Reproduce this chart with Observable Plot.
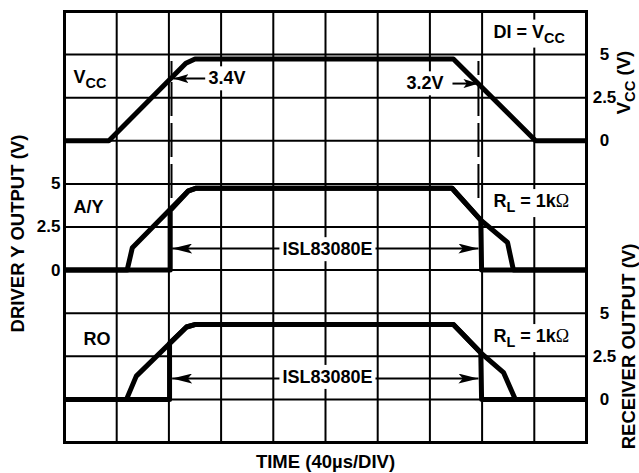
<!DOCTYPE html>
<html><head><meta charset="utf-8">
<script src="https://cdn.jsdelivr.net/npm/d3@7"></script>
<script src="https://cdn.jsdelivr.net/npm/@observablehq/plot@0.6"></script>
<style>body{margin:0;background:#fff} svg{display:block}</style>
</head><body><div id="chart"></div>
<script>
// ---- scope graticule: 40 µs/div horizontally, 2.5 V/div vertically ----
const gridTimes = [0, 40, 80, 120, 160, 200, 240, 280, 320, 360, 400];
const gridLevels = [0, 2.5, 5, 7.5, 10, 12.5, 15, 17.5, 20, 22.5, 25];

// channel zero-volt levels on the stacked screen
const vccOffset = 17.5, driverOffset = 10, receiverOffset = 2.5;

// ---- traces (time in µs, value in volts) ----
const vccTime  = [0, 34, 93, 100, 298, 361, 400];
const vccVolts = [0, 0, 4.5, 4.75, 4.75, 0, 0];

const aySlowTime  = [0, 48, 52, 95, 101, 297, 319, 339.5, 344, 400];
const aySlowVolts = [0, 0, 1.3, 4.6, 4.75, 4.75, 2.9, 1.6, 0, 0];
const ayFastTime  = [0, 81, 81, 95, 101, 297, 319, 319.6, 400];
const ayFastVolts = [0, 0, 3.45, 4.6, 4.75, 4.75, 2.9, 0, 0];

const roSlowTime  = [0, 47.5, 55, 93.5, 100.5, 298, 319, 336.5, 345.5, 400];
const roSlowVolts = [0, 0, 1.35, 4.2, 4.35, 4.35, 2.7, 1.55, 0, 0];
const roFastTime  = [0, 80.5, 80.5, 93.5, 100.5, 298, 319, 319.6, 400];
const roFastVolts = [0, 0, 3.25, 4.2, 4.35, 4.35, 2.7, 0, 0];

// ---- tick labels ----
const tickValues = [5, 2.5, 0];
const tickLabels = ["5", "2.5", "0"];

// ---- annotations (time µs, screen level) ----
const labelTexts  = ["V_{CC}", "A/Y", "RO", "DI = V_{CC}", "R_{L} = 1kΩ", "R_{L} = 1kΩ", "3.4V"];
const labelTimes  = [6.9, 6.9, 14.6, 328.7, 328.7, 328.7, 110.3];
const labelLevels = [21.2, 13.63, 5.97, 23.82, 13.99, 6.16, 21.11];
const label32 = "3.2V", label32Time = 290.4, label32Level = 20.82;
const islText = "ISL83080E", islTime = 201.5, islLevels = [11.2, 3.79];
const markerTimes = [82, 317.2];            // dashed 3.4 V / 3.2 V markers
const markerTop = 22.1, markerBottom = 14.15;
const islArrowFrom = [200, 200, 200, 200];
const islArrowTo   = [82.5, 317.2, 82.5, 317.2];
const islArrowLevel = [11.25, 11.25, 3.71, 3.71];
const voltArrowFrom = [108, 297.3];
const voltArrowTo   = [83.5, 317.2];
const voltArrowLevel = [21.11, 20.82];

// ---- build tables ----
function series(key, T, V, off) { return T.map((t, i) => ({key, t, y: off + V[i]})); }
const traces = [
  ...series("vcc", vccTime, vccVolts, vccOffset),
  ...series("aySlow", aySlowTime, aySlowVolts, driverOffset),
  ...series("ayFast", ayFastTime, ayFastVolts, driverOffset),
  ...series("roSlow", roSlowTime, roSlowVolts, receiverOffset),
  ...series("roFast", roFastTime, roFastVolts, receiverOffset)
];
const labels = labelTexts.map((s, i) => ({s, t: labelTimes[i], y: labelLevels[i]}));
const islArrows = islArrowFrom.map((a, i) => ({x1: a, x2: islArrowTo[i], y: islArrowLevel[i]}));
const voltArrows = voltArrowFrom.map((a, i) => ({x1: a, x2: voltArrowTo[i], y: voltArrowLevel[i]}));
const leftTicks = tickValues.map((v, i) => ({s: tickLabels[i], y: driverOffset + v}));
const rightTicks = [
  ...tickValues.map((v, i) => ({s: tickLabels[i], y: vccOffset + v})),
  ...tickValues.map((v, i) => ({s: tickLabels[i], y: receiverOffset + v}))
];

const font = "'Liberation Sans', Arial, Helvetica, sans-serif";
const svg = Plot.plot({
  width: 639, height: 473,
  marginLeft: 64, marginRight: 53, marginTop: 11, marginBottom: 31,
  x: {domain: [0, 400], axis: null},
  y: {domain: [0, 25], axis: null},
  style: {fontFamily: font, background: "white", color: "black"},
  marks: [
    Plot.ruleX(gridTimes, {stroke: "black", strokeWidth: 2}),
    Plot.ruleY(gridLevels, {stroke: "black", strokeWidth: 2}),
    Plot.frame({stroke: "black", strokeWidth: 3}),
    Plot.ruleX(markerTimes, {y1: markerBottom, y2: markerTop, stroke: "black", strokeWidth: 2, strokeDasharray: "34,7"}),
    Plot.line(traces, {x: "t", y: "y", z: "key", stroke: "black", strokeWidth: 5, strokeLinejoin: "round", strokeLinecap: "butt"}),
    Plot.link(islArrows, {x1: "x1", x2: "x2", y1: "y", y2: "y", stroke: "black", strokeWidth: 2}),
    Plot.link(voltArrows, {x1: "x1", x2: "x2", y1: "y", y2: "y", stroke: "black", strokeWidth: 2}),
    Plot.text(labels, {x: "t", y: "y", text: "s", textAnchor: "start", fontSize: 18, fontWeight: "bold", fill: "black"}),
    Plot.text([label32], {x: label32Time, y: label32Level, textAnchor: "end", fontSize: 18, fontWeight: "bold", fill: "black"}),
    Plot.text(islLevels, {x: islTime, y: d => d, text: () => islText, textAnchor: "middle", fontSize: 18, fontWeight: "bold", fill: "black"}),
    Plot.text(leftTicks, {x: 0, y: "y", text: "s", dx: -4, textAnchor: "end", fontSize: 17, fontWeight: "bold", fill: "black"}),
    Plot.text(rightTicks, {x: 400, y: "y", text: "s", dx: 18, textAnchor: "middle", fontSize: 17, fontWeight: "bold", fill: "black"}),
    Plot.text(["DRIVER Y OUTPUT (V)"], {x: 0, y: 12.12, dx: -46, rotate: -90, fontSize: 18.5, fontWeight: "bold", fill: "black"}),
    Plot.text(["V_{CC} (V)"], {x: 400, y: 20.88, dx: 38, rotate: -90, fontSize: 18.5, fontWeight: "bold", fill: "black"}),
    Plot.text(["RECEIVER OUTPUT (V)"], {x: 400, y: 5.57, dx: 43, rotate: -90, fontSize: 18.5, fontWeight: "bold", fill: "black"}),
    Plot.text(["TIME (40µs/DIV)"], {x: 200, y: 0, dy: 20, fontSize: 18.5, fontWeight: "bold", fill: "black"})
  ]
});
document.getElementById("chart").append(svg);

// ---- filled arrowheads ----
const ns = "http://www.w3.org/2000/svg";
const defs = document.createElementNS(ns, "defs");
function marker(id, L, H) {
  const m = document.createElementNS(ns, "marker");
  m.setAttribute("id", id);
  m.setAttribute("markerUnits", "userSpaceOnUse");
  m.setAttribute("viewBox", `0 0 ${L} ${H}`);
  m.setAttribute("markerWidth", L);
  m.setAttribute("markerHeight", H);
  m.setAttribute("refX", L);
  m.setAttribute("refY", H / 2);
  m.setAttribute("orient", "auto");
  const p = document.createElementNS(ns, "path");
  p.setAttribute("d", `M0,0L${L},${H / 2}L0,${H}L${L * 0.22},${H / 2}Z`);
  p.setAttribute("fill", "black");
  m.append(p);
  defs.append(m);
}
marker("ah-big", 20, 10);
marker("ah-small", 15, 9);
svg.prepend(defs);
const linkGroups = svg.querySelectorAll('g[aria-label="link"]');
if (linkGroups[0]) linkGroups[0].querySelectorAll("path,line").forEach(p => p.setAttribute("marker-end", "url(#ah-big)"));
if (linkGroups[1]) linkGroups[1].querySelectorAll("path,line").forEach(p => p.setAttribute("marker-end", "url(#ah-small)"));

// ---- subscripts and the Ω glyph ----
svg.querySelectorAll("text").forEach(t => {
  const s = t.textContent;
  if (!/_\{|Ω/.test(s)) return;
  t.textContent = "";
  const parts = s.split(/(_\{[^}]*\}|Ω)/).filter(x => x);
  let shifted = false;
  for (const part of parts) {
    const ts = document.createElementNS(ns, "tspan");
    if (part.startsWith("_{")) {
      ts.textContent = part.slice(2, -1);
      ts.setAttribute("font-size", "0.8em");
      ts.setAttribute("dy", "5");
      shifted = true;
    } else {
      ts.textContent = part;
      if (shifted) { ts.setAttribute("dy", "-5"); shifted = false; }
      if (part === "Ω") { ts.setAttribute("font-weight", "normal"); ts.setAttribute("font-family", "'Liberation Serif', serif"); }
    }
    t.append(ts);
  }
});

// ---- white boxes behind annotations inside the graticule ----
const sr = svg.getBoundingClientRect();
svg.querySelectorAll("text").forEach(t => {
  const r = t.getBoundingClientRect();
  const cx = r.x + r.width / 2 - sr.x, cy = r.y + r.height / 2 - sr.y;
  if (cx < 66 || cx > 584 || cy < 13 || cy > 440) return;
  const b = t.getBBox();
  const rect = document.createElementNS(ns, "rect");
  rect.setAttribute("x", b.x - 3);
  rect.setAttribute("y", b.y - 2);
  rect.setAttribute("width", b.width + 6);
  rect.setAttribute("height", b.height + 4);
  rect.setAttribute("fill", "white");
  rect.setAttribute("stroke", "none");
  const tr = t.getAttribute("transform");
  if (tr) rect.setAttribute("transform", tr);
  t.parentNode.insertBefore(rect, t);
});
</script>
</body></html>
